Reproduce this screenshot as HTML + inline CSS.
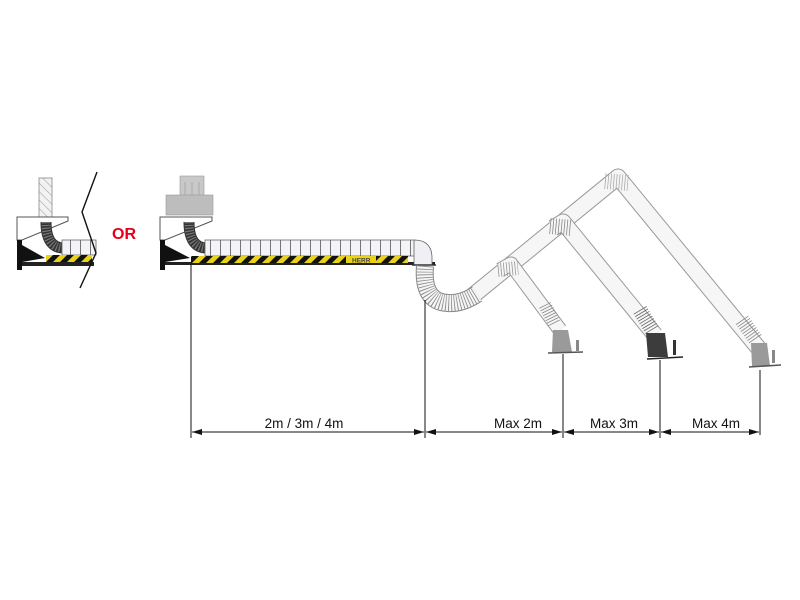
<!DOCTYPE html>
<html><head><meta charset="utf-8"><style>
html,body{margin:0;padding:0;background:#fff;}
svg{display:block;font-family:"Liberation Sans",Arial,sans-serif;}
</style></head><body>
<svg width="800" height="600" viewBox="0 0 800 600" xmlns="http://www.w3.org/2000/svg">
<defs>
<pattern id="hz" width="14" height="8" patternUnits="userSpaceOnUse" patternTransform="skewX(-45)">
<rect width="14" height="8" fill="#e8d21a"/><rect width="7" height="8" fill="#111"/></pattern>
<pattern id="rib" width="10" height="20" patternUnits="userSpaceOnUse">
<rect width="10" height="20" fill="#f4f4f8"/><line x1="0.5" y1="0" x2="0.5" y2="20" stroke="#555" stroke-width="0.8"/></pattern>
<pattern id="hatch" width="6" height="6" patternUnits="userSpaceOnUse" patternTransform="rotate(-45)">
<rect width="6" height="6" fill="#f2f2f2"/><line x1="0" y1="0" x2="0" y2="6" stroke="#999" stroke-width="1"/></pattern>
<marker id="ar" markerWidth="10" markerHeight="6" refX="10" refY="3" orient="auto" markerUnits="userSpaceOnUse">
<path d="M0,0 L10,3 L0,6 z" fill="#111"/></marker>
<marker id="al" markerWidth="10" markerHeight="6" refX="0" refY="3" orient="auto" markerUnits="userSpaceOnUse">
<path d="M10,0 L0,3 L10,6 z" fill="#111"/></marker>
</defs>

<!-- Left small unit -->
<rect x="39" y="178" width="13" height="40" fill="url(#hatch)" stroke="#888" stroke-width="0.8"/>
<path d="M17,217 L68,217 L68,221 L22,240 L17,240 Z" fill="#fff" stroke="#555" stroke-width="1"/>
<rect x="17" y="240" width="5" height="30" fill="#111"/>
<path d="M22,245 L45,258 L22,262 Z" fill="#111"/>
<rect x="22" y="262" width="72" height="4" fill="#222"/>
<path d="M46,222 Q46,248 64,248" fill="none" stroke="#333" stroke-width="11"/>
<path d="M46,222 Q46,248 64,248" fill="none" stroke="#777" stroke-width="9" stroke-dasharray="1.2 1.6"/>
<rect x="62" y="240" width="34" height="15" fill="url(#rib)" stroke="#666" stroke-width="0.8"/>
<rect x="46" y="255" width="46" height="7" fill="url(#hz)"/>
<polyline points="97,172 82,212 96,253 80,288" fill="none" stroke="#111" stroke-width="1.4"/>
<text x="112" y="239" font-size="16" font-weight="bold" fill="#e3001b">OR</text>

<!-- Main unit -->
<rect x="180" y="176" width="24" height="20" fill="#c8c8c8" stroke="#999" stroke-width="0.6"/>
<line x1="185" y1="182" x2="185" y2="196" stroke="#aaa"/><line x1="192" y1="182" x2="192" y2="196" stroke="#aaa"/><line x1="199" y1="182" x2="199" y2="196" stroke="#aaa"/>
<rect x="166" y="195" width="47" height="20" fill="#bdbdbd" stroke="#999" stroke-width="0.6"/>
<path d="M160,217 L212,217 L212,221 L165,240 L160,240 Z" fill="#fff" stroke="#555" stroke-width="1"/>
<rect x="160" y="240" width="5" height="30" fill="#111"/>
<path d="M165,245 L190,258 L165,262 Z" fill="#111"/>
<rect x="165" y="262" width="270" height="3" fill="#222"/>
<path d="M189,222 Q189,248 207,248" fill="none" stroke="#333" stroke-width="11"/>
<path d="M189,222 Q189,248 207,248" fill="none" stroke="#777" stroke-width="9" stroke-dasharray="1.2 1.6"/>
<rect x="205" y="240" width="210" height="16" fill="url(#rib)" stroke="#666" stroke-width="0.8"/>
<path d="M414,240 Q432,240 432,258 L432,265 L414,265 Z" fill="#f0f0f4" stroke="#666" stroke-width="0.8"/>
<rect x="191" y="256" width="217" height="7" fill="url(#hz)"/>
<rect x="346" y="256" width="30" height="7" fill="#e8d21a"/>
<text x="352" y="262.5" font-size="6.5" fill="#444" font-weight="bold">HERR</text>
<line x1="412" y1="265" x2="436" y2="265" stroke="#333" stroke-width="1.5"/>

<!-- Flexible hose & arms -->
<g fill="none" stroke-linecap="butt">
<path d="M470,298 L618,177 L760,350" stroke="#999" stroke-width="17" stroke-linejoin="round"/>
<path d="M470,298 L618,177 L760,350" stroke="#f6f6f6" stroke-width="15" stroke-linejoin="round"/>
<path d="M553,228 L563,222 L655,335" stroke="#999" stroke-width="17" stroke-linejoin="round"/>
<path d="M553,228 L563,222 L655,335" stroke="#f6f6f6" stroke-width="15" stroke-linejoin="round"/>
<path d="M500,270 L511,264 L560,330" stroke="#999" stroke-width="15" stroke-linejoin="round"/>
<path d="M500,270 L511,264 L560,330" stroke="#f6f6f6" stroke-width="13" stroke-linejoin="round"/>
<path d="M425,266 Q422,302 448,303 Q462,304 477,294" stroke="#888" stroke-width="18"/>
<path d="M425,266 Q422,302 448,303 Q462,304 477,294" stroke="#f5f5f5" stroke-width="16"/>
<path d="M425,266 Q422,302 448,303 Q462,304 477,294" stroke="#888" stroke-width="16" stroke-dasharray="0.8 2"/>
<path d="M545,305 L555,325" stroke="#888" stroke-width="13" stroke-dasharray="0.8 2"/>
<path d="M640,310 L652,330" stroke="#666" stroke-width="15" stroke-dasharray="0.8 2"/>
<path d="M742,320 L756,340" stroke="#888" stroke-width="15" stroke-dasharray="0.8 2"/>
<path d="M605,181 L628,183" stroke="#aaa" stroke-width="16" stroke-dasharray="0.8 2"/>
<path d="M550,226 L572,228" stroke="#888" stroke-width="16" stroke-dasharray="0.8 2"/>
<path d="M498,270 L518,268" stroke="#999" stroke-width="14" stroke-dasharray="0.8 2"/>
</g>
<!-- nozzles -->
<path d="M553,330 L568,330 L572,352 L552,352 Z" fill="#9a9a9a"/>
<line x1="548" y1="353" x2="583" y2="352" stroke="#555" stroke-width="1.5"/>
<rect x="576" y="340" width="3" height="11" fill="#888"/>
<path d="M646,333 L665,333 L668,357 L648,357 Z" fill="#3c3c3c"/>
<line x1="647" y1="359" x2="683" y2="357" stroke="#222" stroke-width="1.5"/>
<rect x="673" y="340" width="3" height="15" fill="#333"/>
<path d="M751,343 L767,343 L770,366 L752,366 Z" fill="#9a9a9a"/>
<line x1="749" y1="367" x2="781" y2="365" stroke="#555" stroke-width="1.5"/>
<rect x="772" y="350" width="3" height="13" fill="#888"/>

<!-- Dimension lines -->
<g stroke="#111" stroke-width="1">
<line x1="191" y1="264" x2="191" y2="438"/>
<line x1="425" y1="300" x2="425" y2="438"/>
<line x1="563" y1="354" x2="563" y2="438"/>
<line x1="660" y1="360" x2="660" y2="438"/>
<line x1="760" y1="370" x2="760" y2="435"/>
<line x1="192" y1="432" x2="424" y2="432" marker-start="url(#al)" marker-end="url(#ar)"/>
<line x1="426" y1="432" x2="562" y2="432" marker-start="url(#al)" marker-end="url(#ar)"/>
<line x1="564" y1="432" x2="659" y2="432" marker-start="url(#al)" marker-end="url(#ar)"/>
<line x1="661" y1="432" x2="759" y2="432" marker-start="url(#al)" marker-end="url(#ar)"/>
</g>
<g font-size="13.5" fill="#111" text-anchor="middle">
<text x="304" y="428">2m / 3m / 4m</text>
<text x="518" y="428">Max 2m</text>
<text x="614" y="428">Max 3m</text>
<text x="716" y="428">Max 4m</text>
</g>
</svg>
</body></html>
